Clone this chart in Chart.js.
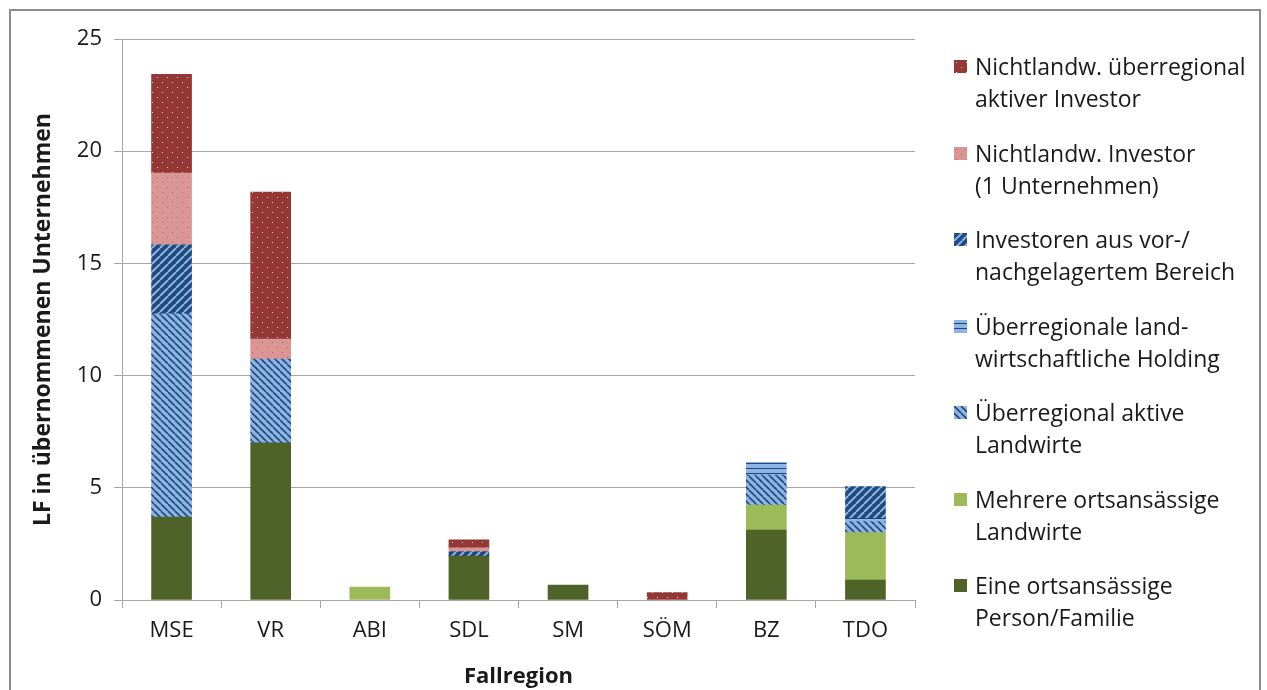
<!DOCTYPE html>
<html>
<head>
<meta charset="utf-8">
<script src="https://cdn.jsdelivr.net/npm/chart.js@4/dist/chart.umd.min.js"></script>
<style>
    html, body {
        margin: 0;
        padding: 0;
        background: #fff;
        width: 1267px;
        height: 690px;
        overflow: hidden;
        font-family: "Open Sans", Lato, sans-serif;
    }
    #frame {
        position: absolute;
        left: 9px;
        top: 9px;
        width: 1252px;
        height: 700px;
        border: 2px solid #8c8c8c;
        box-sizing: border-box;
    }
    #wrap {
        position: absolute;
        left: 0;
        top: 0;
        width: 1267px;
        height: 690px;
    }
    #legend {
        position: absolute;
        left: 954px;
        top: 50px;
        width: 312px;
    }
    .item {
        position: relative;
        height: 86.5px;
        padding-left: 21px;
        font-size: 23px;
        line-height: 32px;
        color: #1a1a1a;
        white-space: nowrap;
    }
    .item canvas {
        position: absolute;
        left: 0;
        top: 10px;
    }
</style>
</head>
<body>
<div id="frame"></div>
<div id="wrap"><canvas id="chart" width="1267" height="690"></canvas></div>
<div id="legend"></div>
<script>
// Categories (Fallregionen)
const categories = ['MSE', 'VR', 'ABI', 'SDL', 'SM', 'SÖM', 'BZ', 'TDO'];

// Series values, bottom of stack first
const eineFamilie = [3.7, 7.0, 0, 1.96, 0.67, 0, 3.12, 0.89];
const mehrereLandwirte = [0, 0, 0.58, 0, 0, 0, 1.11, 2.11];
const ueberregionalLandwirte = [9.05, 3.74, 0, 0, 0, 0, 1.34, 0.49];
const holding = [0, 0, 0, 0, 0, 0, 0.57, 0.15];
const vorNachgelagert = [3.08, 0, 0, 0.2, 0, 0, 0, 1.41];
const investorEins = [3.2, 0.89, 0, 0.16, 0, 0, 0, 0];
const ueberregionalInvestor = [4.4, 6.55, 0, 0.36, 0, 0.33, 0, 0];

const yTicks = [0, 5, 10, 15, 20, 25];

// Build a small tile and turn it into a canvas pattern
function makeTile(kind) {
    const c = document.createElement('canvas');
    const t = c.getContext('2d');
    if (kind === 'dotsDark') {
        c.width = 10; c.height = 10;
        t.fillStyle = '#953735';
        t.fillRect(0, 0, 10, 10);
        t.fillStyle = '#f4dede';
        t.fillRect(2, 2, 1, 1);
        t.fillRect(7, 7, 1, 1);
    } else if (kind === 'dotsPink') {
        c.width = 10; c.height = 10;
        t.fillStyle = '#d99694';
        t.fillRect(0, 0, 10, 10);
        t.fillStyle = '#c0605e';
        t.fillRect(2, 2, 1, 1);
        t.fillRect(7, 7, 1, 1);
    } else if (kind === 'upDiag') {
        c.width = 8; c.height = 8;
        t.fillStyle = '#1f497d';
        t.fillRect(0, 0, 8, 8);
        t.strokeStyle = '#8db4e2';
        t.lineWidth = 2;
        for (let o = -8; o <= 16; o += 8) {
            t.beginPath();
            t.moveTo(o, 8);
            t.lineTo(o + 8, 0);
            t.stroke();
        }
    } else if (kind === 'downDiag') {
        c.width = 7; c.height = 7;
        t.fillStyle = '#8db4e2';
        t.fillRect(0, 0, 7, 7);
        t.strokeStyle = '#1f497d';
        t.lineWidth = 1.6;
        for (let o = -7; o <= 14; o += 7) {
            t.beginPath();
            t.moveTo(o, 0);
            t.lineTo(o + 7, 7);
            t.stroke();
        }
    } else if (kind === 'horiz') {
        c.width = 6; c.height = 5;
        t.fillStyle = '#8db4e2';
        t.fillRect(0, 0, 6, 5);
        t.fillStyle = '#1f497d';
        t.fillRect(0, 3, 6, 1);
    }
    return c;
}

const ctxEl = document.getElementById('chart');
const ctx = ctxEl.getContext('2d');

function pattern(kind) {
    return ctx.createPattern(makeTile(kind), 'repeat');
}

const series = [
    { label: 'Eine ortsansässige Person/Familie', data: eineFamilie, fill: '#4f6228', kind: null },
    { label: 'Mehrere ortsansässige Landwirte', data: mehrereLandwirte, fill: '#9bbb59', kind: null },
    { label: 'Überregional aktive Landwirte', data: ueberregionalLandwirte, fill: null, kind: 'downDiag' },
    { label: 'Überregionale landwirtschaftliche Holding', data: holding, fill: null, kind: 'horiz' },
    { label: 'Investoren aus vor-/nachgelagertem Bereich', data: vorNachgelagert, fill: null, kind: 'upDiag' },
    { label: 'Nichtlandw. Investor (1 Unternehmen)', data: investorEins, fill: null, kind: 'dotsPink' },
    { label: 'Nichtlandw. überregional aktiver Investor', data: ueberregionalInvestor, fill: null, kind: 'dotsDark' }
];

// Two-line legend texts, top to bottom as in the reference
const legendLines = [
    ['Nichtlandw. überregional', 'aktiver Investor'],
    ['Nichtlandw. Investor', '(1 Unternehmen)'],
    ['Investoren aus vor-/', 'nachgelagertem Bereich'],
    ['Überregionale land-', 'wirtschaftliche Holding'],
    ['Überregional aktive', 'Landwirte'],
    ['Mehrere ortsansässige', 'Landwirte'],
    ['Eine ortsansässige', 'Person/Familie']
];

const gridColor = '#a6a6a6';
const fam = '"Open Sans", Lato, sans-serif';
const tickFont = { family: fam, size: 22 };

new Chart(ctxEl, {
    type: 'bar',
    data: {
        labels: categories,
        datasets: series.map(s => ({
            label: s.label,
            // empty segments are left out so nothing is drawn for them
            data: s.data.map(v => (v === 0 ? null : v)),
            backgroundColor: s.kind ? pattern(s.kind) : s.fill,
            borderWidth: 0,
            barThickness: 40
        }))
    },
    options: {
        responsive: false,
        animation: false,
        layout: {
            padding: { left: 30, right: 352, top: 39, bottom: 0 }
        },
        plugins: {
            legend: { display: false },
            tooltip: { enabled: false }
        },
        scales: {
            x: {
                stacked: true,
                offset: true,
                grid: {
                    display: true,
                    drawOnChartArea: false,
                    drawTicks: true,
                    tickLength: 8,
                    color: gridColor,
                    offset: true
                },
                border: { color: gridColor, width: 1 },
                ticks: {
                    color: '#1a1a1a',
                    font: tickFont,
                    padding: 10
                },
                title: {
                    display: true,
                    text: 'Fallregion',
                    color: '#1a1a1a',
                    font: { family: fam, size: 22, weight: 'bold' },
                    padding: { top: 4, bottom: 0 }
                },
                afterFit: function(scale) {
                    scale.height = 90;
                }
            },
            y: {
                stacked: true,
                min: 0,
                max: 25,
                afterBuildTicks: function(scale) {
                    scale.ticks = yTicks.map(v => ({ value: v }));
                },
                grid: {
                    color: gridColor,
                    tickLength: 8,
                    lineWidth: 1
                },
                border: { color: gridColor, width: 1 },
                ticks: {
                    color: '#1a1a1a',
                    font: tickFont,
                    padding: 12
                },
                title: {
                    display: true,
                    text: 'LF in übernommenen Unternehmen',
                    color: '#1a1a1a',
                    font: { family: fam, size: 23, weight: 'bold' },
                    padding: { top: 0, bottom: 6 }
                },
                afterFit: function(scale) {
                    scale.width = 92;
                }
            }
        }
    }
});

// HTML legend with pattern swatches
const legendEl = document.getElementById('legend');
legendLines.forEach((lines, i) => {
    const s = series[series.length - 1 - i];
    const item = document.createElement('div');
    item.className = 'item';
    const sw = document.createElement('canvas');
    sw.width = 13;
    sw.height = 13;
    const sc = sw.getContext('2d');
    sc.fillStyle = s.kind ? sc.createPattern(makeTile(s.kind), 'repeat') : s.fill;
    sc.fillRect(0, 0, 13, 13);
    item.appendChild(sw);
    lines.forEach(line => {
        const d = document.createElement('div');
        d.textContent = line;
        item.appendChild(d);
    });
    legendEl.appendChild(item);
});
</script>
</body>
</html>
